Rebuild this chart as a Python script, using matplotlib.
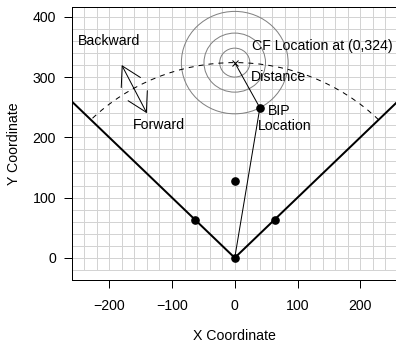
"""
Coordinate sketch: CF location, BIP location and boundary lines
"""

import numpy as np
import matplotlib
matplotlib.use("Agg")
import matplotlib.pyplot as plt
from matplotlib.patches import Circle, Arc

plt.rcParams['font.family'] = ['Liberation Sans', 'DejaVu Sans']

# Chart data
boundary_x = [-300, 0, 300]          # V-shaped boundary lines
boundary_y = [300, 0, 300]
point_x = [0, -63.5, 63.5, 0]        # filled points
point_y = [0, 63.5, 63.5, 127]
cf = (0, 324)                        # CF location
bip = (40, 249)                      # BIP location
ring_radii = [24, 49, 85]            # rings round the CF location
arc_radius = 324                     # dashed arc round the origin
arc_angles = (45, 135)
arrow_start = (-180, 320)            # Backward / Forward arrow
arrow_end = (-140, 240)

labels = [
    (-200, 360, "Backward"),
    (-120, 220, "Forward"),
    (139, 352, "CF Location at (0,324)"),
    (70, 300, "Distance"),
    (70, 243, "BIP"),
    (79, 218, "Location"),
]

x_ticks = [-200, -100, 0, 100, 200]
y_ticks = [0, 100, 200, 300, 400]
x_grid = np.arange(-240, 241, 20)
y_grid = np.arange(-20, 401, 20)
xlim = (-259.2, 259.2)
ylim = (-36.8, 416.8)

W, H = 396, 347
fig = plt.figure(figsize=(W / 100, H / 100), dpi=100)
ax = fig.add_axes([72 / W, (H - 280) / H, (397.5 - 72) / W, (280 - 6.7) / H])
ax.set_xlim(xlim)
ax.set_ylim(ylim)

fs = 10.2
px = 0.72  # one pixel in points

# grid: horizontal lines across, vertical lines from -20 upwards
for y in y_grid:
    ax.plot(xlim, [y, y], color='#d3d3d3', lw=1 * px, zorder=1)
for x in x_grid:
    ax.plot([x, x], [y_grid[0], ylim[1]], color='#d3d3d3', lw=1 * px, zorder=1)

# rings round CF
for r in ring_radii:
    ax.add_patch(Circle(cf, r, fill=False, edgecolor='#808080', lw=1 * px, zorder=2))

# dashed arc
ax.add_patch(Arc((0, 0), 2 * arc_radius, 2 * arc_radius, theta1=arc_angles[0],
                 theta2=arc_angles[1], edgecolor='black', lw=1 * px,
                 linestyle=(0, (5, 5)), zorder=3))

# boundary lines
ax.plot(boundary_x, boundary_y, color='black', lw=2 * px, zorder=4)

# origin -> BIP -> CF
ax.plot([0, bip[0], cf[0]], [0, bip[1], cf[1]], color='black', lw=1 * px, zorder=4)

ax.plot(point_x, point_y, 'o', color='black', ms=5.2, zorder=5)
ax.plot(bip[0], bip[1], 'o', color='black', ms=5.2, zorder=5)
ax.plot(cf[0], cf[1], 'x', color='black', ms=5, mew=1 * px, zorder=5)

ax.annotate("", xy=arrow_end, xytext=arrow_start,
            arrowprops=dict(arrowstyle="<->,head_length=1.35,head_width=0.78",
                            mutation_scale=10, lw=1 * px, color='black',
                            shrinkA=0, shrinkB=0), zorder=5)

for x, y, s in labels:
    ax.text(x, y, s, ha='center', va='center', fontsize=fs, zorder=6)

ax.set_xticks(x_ticks)
ax.set_yticks(y_ticks)
ax.tick_params(direction='out', length=5.8, width=1 * px, labelsize=fs)
ax.tick_params(axis='x', pad=7.7)
ax.tick_params(axis='y', pad=5.8)
for sp in ax.spines.values():
    sp.set_linewidth(1 * px)
ax.set_xlabel("X Coordinate", fontsize=fs, labelpad=11.8)
ax.set_ylabel("Y Coordinate", fontsize=fs, labelpad=8)

fig.savefig("out.png", dpi=100)
